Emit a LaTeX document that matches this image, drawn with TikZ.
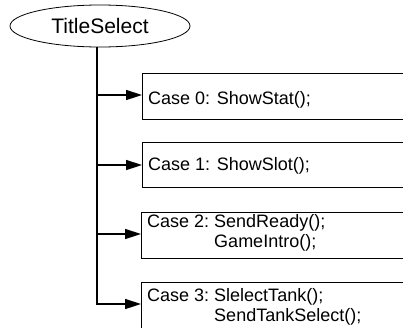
\documentclass[tikz,border=0pt]{standalone}
\usepackage{fontspec}
\setmainfont{Liberation Sans}
\usetikzlibrary{shapes.geometric,arrows.meta}
\begin{document}
\begin{tikzpicture}[x=1pt,y=-1pt,
  casebox/.style={draw, line width=0.8pt, rectangle, anchor=north west,
    minimum width=280pt, inner sep=0pt},
  casetext/.style={anchor=base west, inner sep=0pt, font=\fontsize{18}{20}\selectfont},
  branch/.style={line width=1.5pt, -{Triangle[length=16pt,width=10pt]}},
  trunk/.style={line width=1.5pt}]
\useasboundingbox (0,0) rectangle (403,327);
\clip (0,0) rectangle (403,327);
\node[draw, ellipse, line width=0.8pt, minimum width=180pt, minimum height=42pt,
  inner sep=0pt, font=\fontsize{21}{24}\selectfont] (title) at (100,26) {TitleSelect};
% case boxes
\node[casebox, minimum height=46pt] (c0) at (142,73) {};
\node[casebox, minimum height=45pt] (c1) at (142,142) {};
\node[casebox, minimum height=46pt] (c2) at (141,212) {};
\node[casebox, minimum height=60pt] (c3) at (141,282) {};
% case texts, continuation lines aligned under the first call
\node[casetext] (t0) at (148,104) {Case 0: ShowStat();};
\node[casetext] (t1) at (148,170) {Case 1: ShowSlot();};
\node[casetext] (t2) at (147,227)
  {\begin{tabular}[t]{@{}l@{\ }l@{}}Case 2: & SendReady();\\ & GameIntro();\end{tabular}};
\node[casetext] (t3) at (147,301)
  {\begin{tabular}[t]{@{}l@{\ }l@{}}Case 3: & SlelectTank();\\ & SendTankSelect();\end{tabular}};
% connectors
\coordinate (j0) at (97,95);
\coordinate (j1) at (97,165);
\coordinate (j2) at (97,234);
\coordinate (j3) at (97,304);
\draw[trunk] (title.south -| j0) -- ([yshift=0.75pt]j3);
\draw[branch] (j0) -- (j0 -| c0.west);
\draw[branch] (j1) -- (j1 -| c1.west);
\draw[branch] (j2) -- (j2 -| c2.west);
\draw[branch] ([xshift=-0.75pt]j3) -- (j3 -| c3.west);
\end{tikzpicture}
\end{document}
